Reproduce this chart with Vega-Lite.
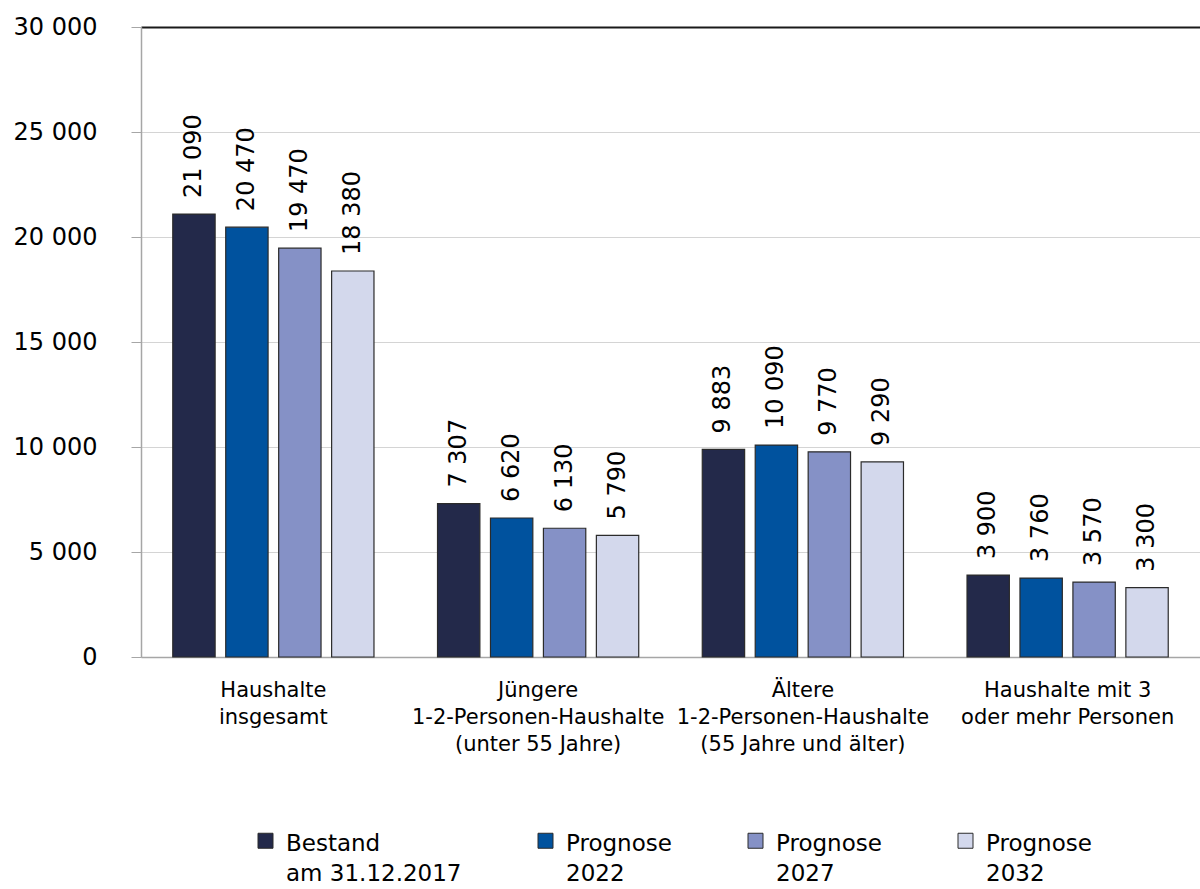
{
  "$schema": "https://vega.github.io/schema/vega-lite/v6.json",
  "width": 1059,
  "height": 630,
  "autosize": {"type": "none"},
  "padding": {"left": 141, "top": 27, "right": 0, "bottom": 232},
  "background": "#ffffff",
  "config": {
    "locale": {"number": {"decimal": ",", "thousands": " ", "grouping": [3], "currency": ["", " €"]}},
    "font": "DejaVu Sans",
    "view": {"stroke": null}
  },
  "data": {
    "values": [
      {"gruppe": "Haushalte|insgesamt", "reihe": "Bestand|am 31.12.2017", "wert": 21090},
      {"gruppe": "Haushalte|insgesamt", "reihe": "Prognose|2022", "wert": 20470},
      {"gruppe": "Haushalte|insgesamt", "reihe": "Prognose|2027", "wert": 19470},
      {"gruppe": "Haushalte|insgesamt", "reihe": "Prognose|2032", "wert": 18380},
      {"gruppe": "Jüngere|1-2-Personen-Haushalte|(unter 55 Jahre)", "reihe": "Bestand|am 31.12.2017", "wert": 7307},
      {"gruppe": "Jüngere|1-2-Personen-Haushalte|(unter 55 Jahre)", "reihe": "Prognose|2022", "wert": 6620},
      {"gruppe": "Jüngere|1-2-Personen-Haushalte|(unter 55 Jahre)", "reihe": "Prognose|2027", "wert": 6130},
      {"gruppe": "Jüngere|1-2-Personen-Haushalte|(unter 55 Jahre)", "reihe": "Prognose|2032", "wert": 5790},
      {"gruppe": "Ältere|1-2-Personen-Haushalte|(55 Jahre und älter)", "reihe": "Bestand|am 31.12.2017", "wert": 9883},
      {"gruppe": "Ältere|1-2-Personen-Haushalte|(55 Jahre und älter)", "reihe": "Prognose|2022", "wert": 10090},
      {"gruppe": "Ältere|1-2-Personen-Haushalte|(55 Jahre und älter)", "reihe": "Prognose|2027", "wert": 9770},
      {"gruppe": "Ältere|1-2-Personen-Haushalte|(55 Jahre und älter)", "reihe": "Prognose|2032", "wert": 9290},
      {"gruppe": "Haushalte mit 3|oder mehr Personen", "reihe": "Bestand|am 31.12.2017", "wert": 3900},
      {"gruppe": "Haushalte mit 3|oder mehr Personen", "reihe": "Prognose|2022", "wert": 3760},
      {"gruppe": "Haushalte mit 3|oder mehr Personen", "reihe": "Prognose|2027", "wert": 3570},
      {"gruppe": "Haushalte mit 3|oder mehr Personen", "reihe": "Prognose|2032", "wert": 3300}
    ]
  },
  "encoding": {
    "x": {
      "field": "gruppe",
      "type": "nominal",
      "sort": null,
      "scale": {"paddingInner": 0.2, "paddingOuter": 0.1},
      "axis": {
        "title": null,
        "labelAngle": 0,
        "ticks": false,
        "labelExpr": "split(datum.label, '|')",
        "labelFontSize": 21,
        "labelLineHeight": 27,
        "labelColor": "#000000",
        "labelPadding": 22,
        "labelLimit": 0,
        "labelOverlap": false,
        "labelBaseline": "top",
        "domainColor": "#a6a6a6",
        "domainWidth": 1.5
      }
    },
    "xOffset": {
      "field": "reihe",
      "type": "nominal",
      "sort": null,
      "scale": {"paddingInner": 0.2, "paddingOuter": 0.1}
    },
    "y": {
      "field": "wert",
      "type": "quantitative",
      "scale": {"domain": [0, 30000], "nice": false},
      "axis": {
        "title": null,
        "values": [0, 5000, 10000, 15000, 20000, 25000, 30000],
        "format": ",d",
        "labelFontSize": 24,
        "labelColor": "#000000",
        "labelPadding": 34,
        "tickSize": 10,
        "tickColor": "#a6a6a6",
        "domainColor": "#a6a6a6",
        "domainWidth": 1.5,
        "grid": true,
        "gridColor": {"condition": {"test": "datum.value === 30000", "value": "#1a1a1a"}, "value": "#d4d4d4"},
        "gridWidth": {"condition": {"test": "datum.value === 30000", "value": 2}, "value": 1.2}
      }
    }
  },
  "layer": [
    {
      "mark": {"type": "bar", "stroke": "#2b2b2b", "strokeWidth": 1.2},
      "encoding": {
        "color": {
          "field": "reihe",
          "type": "nominal",
          "sort": null,
          "scale": {
            "domain": ["Bestand|am 31.12.2017", "Prognose|2022", "Prognose|2027", "Prognose|2032"],
            "range": ["#23294a", "#00529e", "#8591c6", "#d3d8ec"]
          },
          "legend": {
            "title": null,
            "orient": "none",
            "legendX": 113,
            "legendY": 802,
            "direction": "horizontal",
            "columns": 4,
            "columnPadding": 72,
            "symbolType": "square",
            "symbolSize": 225,
            "symbolStrokeColor": "#2b2b2b",
            "symbolStrokeWidth": 1,
            "labelExpr": "split(datum.label, '|')",
            "labelFontSize": 23,
            "labelColor": "#000000",
            "labelOffset": 9,
            "labelLimit": 0,
            "labelBaseline": "alphabetic",
            "encode": {
              "labels": {"update": {"dy": {"value": 10}, "lineHeight": {"value": 30}}}
            }
          }
        }
      }
    },
    {
      "mark": {
        "type": "text",
        "angle": 270,
        "align": "left",
        "baseline": "middle",
        "dx": 16,
        "fontSize": 24,
        "color": "#000000"
      },
      "encoding": {
        "text": {"field": "wert", "type": "quantitative", "format": ",d"}
      }
    }
  ]
}
